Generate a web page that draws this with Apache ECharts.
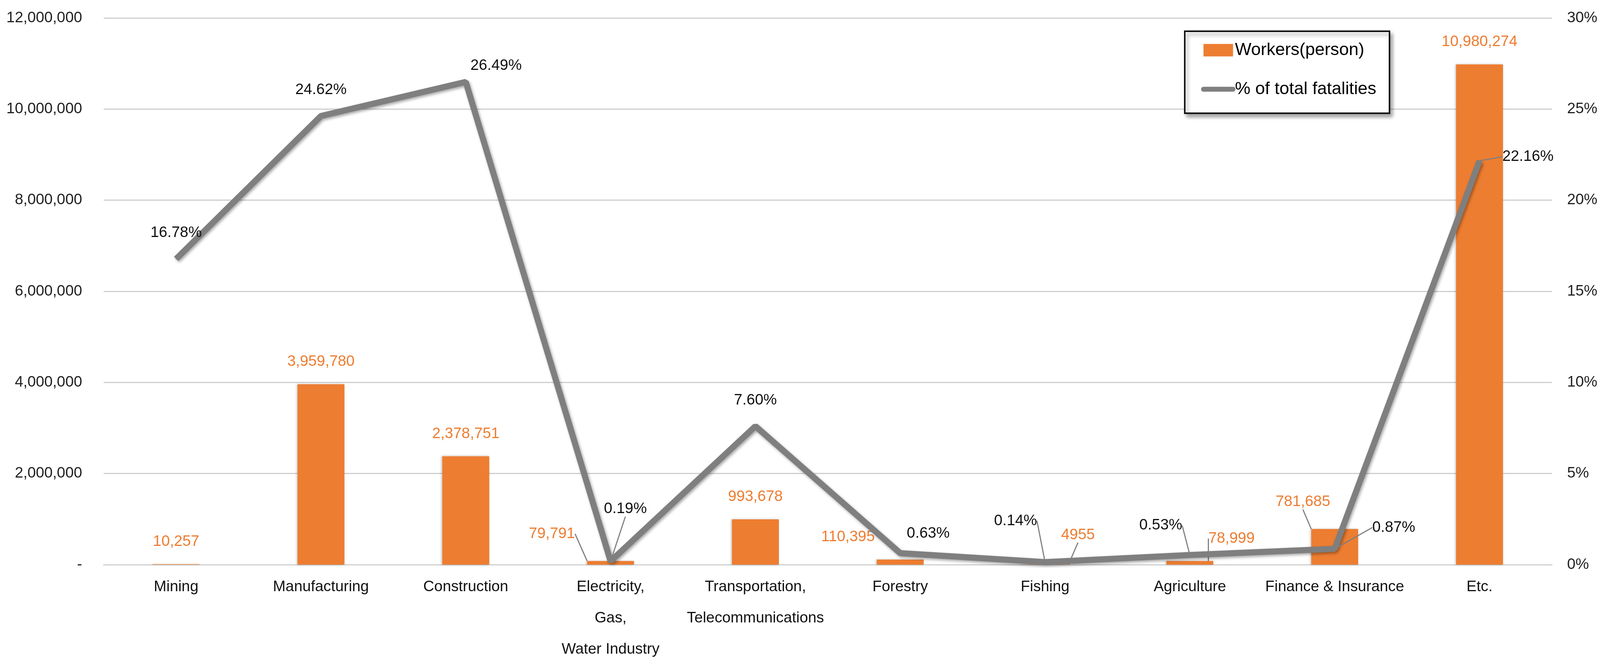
<!DOCTYPE html>
<html>
<head>
    <meta charset="UTF-8">
    <title>Workers and fatalities by industry</title>
    <script src="https://cdn.jsdelivr.net/npm/echarts@6/dist/echarts.min.js"></script>
    <style>
        html, body { margin: 0; padding: 0; background: #fff; overflow: hidden; }
        #main { width: 100%; height: 100vh; }
    </style>
</head>
<body>
    <div id="main"></div>
    <script type="text/javascript">
        // data
        var industries = ['Mining', 'Manufacturing', 'Construction', 'Electricity,\nGas,\nWater Industry',
            'Transportation,\nTelecommunications', 'Forestry', 'Fishing', 'Agriculture', 'Finance & Insurance', 'Etc.'];
        var workers = [10257, 3959780, 2378751, 79791, 993678, 110395, 4955, 78999, 781685, 10980274];
        var fatalityShare = [16.78, 24.62, 26.49, 0.19, 7.60, 0.63, 0.14, 0.53, 0.87, 22.16];
        var leftTicks = [0, 2000000, 4000000, 6000000, 8000000, 10000000, 12000000];
        var rightTicks = [0, 5, 10, 15, 20, 25, 30];

        // where the labels were nudged in the original (pixels at 4227x1703)
        var barLabelShift = [[0,0],[0,0],[0,0],[-155,-12],[0,0],[-138,0],[87,-18],[110,0],[-84,-12],[0,0]];
        var lineLabelShift = [[0,0],[0,0],[80,25],[39,-67],[0,0],[74,16],[-78,-39],[-77,-9],[156,12],[128,56]];
        var barLeaders = [3, 6, 7, 8];
        var lineLeaders = [3, 6, 7, 8, 9];

        var FONT = "'Liberation Sans', Arial, sans-serif";
        var ORANGE = '#ED7D31';
        var GRAY = '#7F7F7F';

        var dom = document.getElementById('main');
        var myChart = echarts.init(dom);

        function build() {
            // layout was measured on a 4227x1703 picture, scale it to whatever we get
            var sx = dom.clientWidth / 4227;
            var sy = dom.clientHeight / 1703;
            var f = Math.min(sx, sy);
            function X(v) { return v * sx; }
            function Y(v) { return v * sy; }
            function F(v) { return v * f; }

            var barData = workers.map(function (v, i) {
                var item = { value: v };
                if (barLeaders.indexOf(i) >= 0) item.labelLine = { show: true };
                return item;
            });
            var lineData = fatalityShare.map(function (v, i) {
                var item = { value: v };
                if (lineLeaders.indexOf(i) >= 0) item.labelLine = { show: true };
                return item;
            });

            myChart.setOption({
                animation: false,
                textStyle: { fontFamily: FONT },
                grid: { left: X(274), right: X(127), top: Y(46), bottom: Y(255) },
                legend: {
                    orient: 'vertical',
                    left: X(3130),
                    top: Y(80),
                    padding: [Y(26), X(35), Y(39), X(43)],
                    itemWidth: X(78),
                    itemHeight: Y(32),
                    itemGap: Y(55),
                    itemTextGap: X(10),
                    borderColor: '#111',
                    borderWidth: F(4),
                    backgroundColor: '#fff',
                    shadowColor: 'rgba(0,0,0,0.35)',
                    shadowBlur: F(10),
                    shadowOffsetX: F(6),
                    shadowOffsetY: F(8),
                    textStyle: { fontSize: F(46), color: '#000', fontFamily: FONT },
                    lineStyle: { width: F(13), cap: 'round', shadowBlur: 0, shadowOffsetX: 0, shadowOffsetY: 0 },
                    data: [
                        { name: 'Workers(person)', icon: 'rect' },
                        { name: '% of total fatalities', itemStyle: { opacity: 0 } }
                    ]
                },
                xAxis: {
                    type: 'category',
                    data: industries,
                    axisTick: { show: false },
                    axisLine: { lineStyle: { color: '#cfcfcf', width: F(3) } },
                    axisLabel: {
                        fontSize: F(40), color: '#111', lineHeight: Y(80), margin: Y(17), interval: 0
                    }
                },
                yAxis: [{
                    type: 'value',
                    min: leftTicks[0],
                    max: leftTicks[leftTicks.length - 1],
                    interval: leftTicks[1] - leftTicks[0],
                    axisLine: { show: false },
                    axisTick: { show: false },
                    splitLine: { lineStyle: { color: '#cfcfcf', width: F(3) } },
                    axisLabel: {
                        fontSize: F(40), color: '#222', margin: X(57),
                        formatter: function (v) { return v === 0 ? '-' : v.toLocaleString('en-US'); }
                    }
                }, {
                    type: 'value',
                    min: rightTicks[0],
                    max: rightTicks[rightTicks.length - 1],
                    interval: rightTicks[1] - rightTicks[0],
                    axisLine: { show: false },
                    axisTick: { show: false },
                    splitLine: { show: false },
                    axisLabel: { fontSize: F(40), color: '#222', margin: X(40), formatter: '{value}%' }
                }],
                series: [{
                    name: 'Workers(person)',
                    type: 'bar',
                    data: barData,
                    barWidth: X(124),
                    itemStyle: {
                        color: ORANGE,
                        shadowColor: 'rgba(0,0,0,0.25)',
                        shadowBlur: F(6),
                        shadowOffsetX: -F(2)
                    },
                    label: {
                        show: true,
                        position: 'top',
                        distance: Y(38),
                        fontSize: F(40),
                        color: ORANGE,
                        // the original prints 4955 without a separator
                        formatter: function (p) { return p.value < 10000 ? String(p.value) : p.value.toLocaleString('en-US'); }
                    },
                    labelLine: { show: false, lineStyle: { color: GRAY, width: F(3) } },
                    labelLayout: function (p) {
                        var s = barLabelShift[p.dataIndex];
                        return { dx: X(s[0]), dy: Y(s[1]) };
                    },
                    z: 2
                }, {
                    name: '% of total fatalities',
                    type: 'line',
                    yAxisIndex: 1,
                    data: lineData,
                    symbol: 'circle',
                    symbolSize: 2,
                    itemStyle: { color: GRAY },
                    lineStyle: {
                        color: GRAY,
                        width: F(16),
                        shadowColor: 'rgba(0,0,0,0.35)',
                        shadowBlur: F(8),
                        shadowOffsetX: F(3),
                        shadowOffsetY: F(4)
                    },
                    label: {
                        show: true,
                        position: 'top',
                        distance: Y(46),
                        fontSize: F(40),
                        color: '#111',
                        formatter: function (p) { return p.value.toFixed(2) + '%'; }
                    },
                    labelLine: { show: false, lineStyle: { color: GRAY, width: F(3) } },
                    labelLayout: function (p) {
                        var s = lineLabelShift[p.dataIndex];
                        return { dx: X(s[0]), dy: Y(s[1]) };
                    },
                    z: 3
                }]
            }, true);
        }

        build();
        window.addEventListener('resize', function () { myChart.resize(); build(); });
    </script>
</body>
</html>
